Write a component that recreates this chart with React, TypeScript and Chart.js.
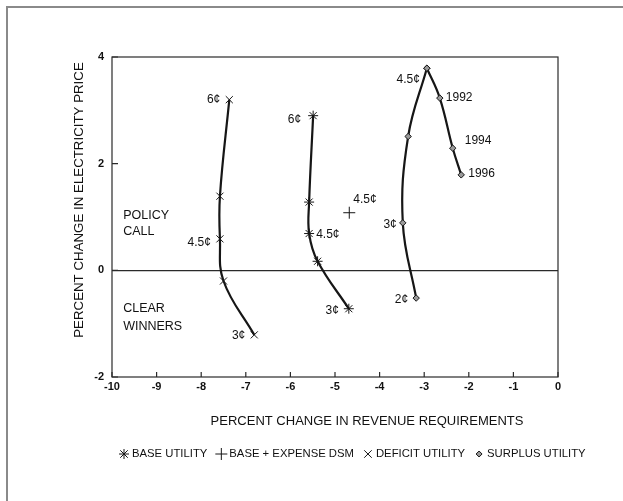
import React, { useEffect, useRef } from 'react';
import { Chart, registerables } from 'chart.js';

Chart.register(...registerables);

// ---------- data ----------
const xTicks = [-10, -9, -8, -7, -6, -5, -4, -3, -2, -1, 0];
const yTicks = [-2, 0, 2, 4];

const deficitX = [-7.37, -7.58, -7.58, -7.5, -6.81];
const deficitY = [3.2, 1.39, 0.59, -0.2, -1.21];

const baseX = [-5.49, -5.58, -5.58, -5.39, -4.69];
const baseY = [2.9, 1.28, 0.69, 0.17, -0.72];

const dsmX = [-4.68];
const dsmY = [1.08];

const surplusX = [-3.18, -3.48, -3.36, -2.94, -2.65, -2.36, -2.17];
const surplusY = [-0.52, 0.89, 2.51, 3.79, 3.23, 2.29, 1.79];
const surplusPeak = 3;

const legendLabels = ['BASE UTILITY', 'BASE + EXPENSE DSM', 'DEFICIT UTILITY', 'SURPLUS UTILITY'];
const xTitle = 'PERCENT CHANGE IN REVENUE REQUIREMENTS';
const yTitle = 'PERCENT CHANGE IN ELECTRICITY PRICE';

// point annotations: series, point index, text
const pointNotes = [
  { s: 'deficit', i: 0, text: '6¢' },
  { s: 'deficit', i: 2, text: '4.5¢' },
  { s: 'deficit', i: 4, text: '3¢' },
  { s: 'base', i: 0, text: '6¢' },
  { s: 'base', i: 2, text: '4.5¢' },
  { s: 'base', i: 4, text: '3¢' },
  { s: 'dsm', i: 0, text: '4.5¢' },
  { s: 'surplus', i: 3, text: '4.5¢' },
  { s: 'surplus', i: 4, text: '1992' },
  { s: 'surplus', i: 5, text: '1994' },
  { s: 'surplus', i: 6, text: '1996' },
  { s: 'surplus', i: 1, text: '3¢' },
  { s: 'surplus', i: 0, text: '2¢' },
];
// region notes at data coordinates
const regionNotes = [
  { x: -9.75, y: 1.03, text: 'POLICY' },
  { x: -9.75, y: 0.73, text: 'CALL' },
  { x: -9.75, y: -0.71, text: 'CLEAR' },
  { x: -9.75, y: -1.05, text: 'WINNERS' },
];

// ---------- styling (offsets in px) ----------
const noteStyle: Record<string, { dx: number; dy: number; align: CanvasTextAlign }> = {
  'deficit0': { dx: -9, dy: 0, align: 'right' },
  'deficit2': { dx: -9, dy: 4, align: 'right' },
  'deficit4': { dx: -9, dy: 1, align: 'right' },
  'base0': { dx: -12, dy: 4, align: 'right' },
  'base2': { dx: 7, dy: 1, align: 'left' },
  'base4': { dx: -10, dy: 2, align: 'right' },
  'dsm0': { dx: 4, dy: -13, align: 'left' },
  'surplus3': { dx: -7, dy: 11, align: 'right' },
  'surplus4': { dx: 6, dy: 0, align: 'left' },
  'surplus5': { dx: 12, dy: -8, align: 'left' },
  'surplus6': { dx: 7, dy: -1, align: 'left' },
  'surplus1': { dx: -6, dy: 2, align: 'right' },
  'surplus0': { dx: -8, dy: 2, align: 'right' },
};

const FONT = '"Liberation Sans", Arial, Helvetica, sans-serif';
const INK = '#161616';

function pts(xs: number[], ys: number[]) {
  return xs.map((x, i) => ({ x, y: ys[i] }));
}

const seriesData: Record<string, { x: number; y: number }[]> = {
  deficit: pts(deficitX, deficitY),
  base: pts(baseX, baseY),
  dsm: pts(dsmX, dsmY),
  surplus: pts(surplusX, surplusY),
};

function drawMarker(ctx: CanvasRenderingContext2D, style: string, x: number, y: number, r: number) {
  ctx.save();
  ctx.strokeStyle = INK;
  ctx.lineWidth = 1;
  ctx.beginPath();
  if (style === 'star' || style === 'cross') {
    ctx.moveTo(x - r, y); ctx.lineTo(x + r, y);
    ctx.moveTo(x, y - r); ctx.lineTo(x, y + r);
  }
  if (style === 'star' || style === 'crossRot') {
    const d = r * 0.75;
    ctx.moveTo(x - d, y - d); ctx.lineTo(x + d, y + d);
    ctx.moveTo(x - d, y + d); ctx.lineTo(x + d, y - d);
  }
  ctx.stroke();
  if (style === 'rectRot') {
    ctx.beginPath();
    ctx.moveTo(x, y - r); ctx.lineTo(x + r, y); ctx.lineTo(x, y + r); ctx.lineTo(x - r, y); ctx.closePath();
    ctx.fillStyle = '#9a9a9a';
    ctx.fill();
    ctx.stroke();
  }
  ctx.restore();
}

const decorPlugin = {
  id: 'decor',
  beforeDraw(chart: any) {
    const ctx = chart.ctx as CanvasRenderingContext2D;
    ctx.save();
    ctx.fillStyle = '#ffffff';
    ctx.fillRect(0, 0, chart.width, chart.height);
    // outer frame (left + top)
    ctx.strokeStyle = '#8a8a8a';
    ctx.lineWidth = 2;
    ctx.beginPath();
    ctx.moveTo(7, chart.height);
    ctx.lineTo(7, 7);
    ctx.lineTo(chart.width, 7);
    ctx.stroke();
    ctx.restore();
  },
  afterDraw(chart: any) {
    const ctx = chart.ctx as CanvasRenderingContext2D;
    const a = chart.chartArea;
    const xs = chart.scales.x;
    const ys = chart.scales.y;
    ctx.save();
    // plot box
    ctx.strokeStyle = '#2a2a2a';
    ctx.lineWidth = 1.2;
    ctx.strokeRect(a.left, a.top, a.right - a.left, a.bottom - a.top);
    // inner ticks
    ctx.beginPath();
    xTicks.forEach((v) => {
      const px = xs.getPixelForValue(v);
      ctx.moveTo(px, a.bottom);
      ctx.lineTo(px, a.bottom - 5);
    });
    yTicks.forEach((v) => {
      const py = ys.getPixelForValue(v);
      ctx.moveTo(a.left, py);
      ctx.lineTo(a.left + 6, py);
    });
    ctx.stroke();

    // annotations
    ctx.fillStyle = '#111';
    ctx.font = `12px ${FONT}`;
    ctx.textBaseline = 'middle';
    pointNotes.forEach((n) => {
      const p = seriesData[n.s][n.i];
      const st = noteStyle[n.s + n.i];
      ctx.textAlign = st.align;
      ctx.fillText(n.text, xs.getPixelForValue(p.x) + st.dx, ys.getPixelForValue(p.y) + st.dy);
    });
    ctx.font = `12.5px ${FONT}`;
    ctx.textAlign = 'left';
    regionNotes.forEach((n) => {
      ctx.fillText(n.text, xs.getPixelForValue(n.x), ys.getPixelForValue(n.y));
    });

    // axis titles
    ctx.font = `13px ${FONT}`;
    ctx.textAlign = 'center';
    ctx.fillText(xTitle, 367, 421);
    ctx.save();
    ctx.translate(79, 200);
    ctx.rotate(-Math.PI / 2);
    ctx.font = `13.3px ${FONT}`;
    ctx.fillText(yTitle, 0, 0);
    ctx.restore();

    // legend
    const styles = ['star', 'cross', 'crossRot', 'rectRot'];
    const radii = [5, 6, 5, 3];
    ctx.font = `11.3px ${FONT}`;
    ctx.textAlign = 'left';
    let x = 119;
    const ly = 454;
    legendLabels.forEach((t, k) => {
      drawMarker(ctx, styles[k], x + 5, ly, radii[k]);
      x += 13;
      ctx.fillText(t, x, ly);
      x += ctx.measureText(t).width + 9;
    });
    ctx.restore();
  },
};

export default function App() {
  const ref = useRef<HTMLCanvasElement | null>(null);

  useEffect(() => {
    document.body.style.margin = '0';
    const canvas = ref.current!;
    const line = {
      borderColor: INK,
      borderWidth: 2.2,
      tension: 0.4,
      showLine: true,
      pointBorderColor: INK,
      pointBorderWidth: 1,
      pointHoverRadius: 0,
    };
    const chart = new Chart(canvas, {
      type: 'scatter',
      data: {
        datasets: [
          { ...line, label: legendLabels[2], data: seriesData.deficit, pointStyle: 'crossRot', pointRadius: 5 },
          { ...line, label: legendLabels[0], data: seriesData.base, pointStyle: 'star', pointRadius: 5 },
          { ...line, label: legendLabels[1], data: seriesData.dsm, pointStyle: 'cross', pointRadius: 6, showLine: false },
          {
            ...line, label: legendLabels[3], data: seriesData.surplus.slice(0, surplusPeak + 1),
            pointStyle: 'rectRot', pointRadius: 3.2, pointBackgroundColor: '#9a9a9a',
          },
          {
            ...line, label: legendLabels[3] + ' ', data: seriesData.surplus.slice(surplusPeak),
            pointStyle: 'rectRot', pointRadius: 3.2, pointBackgroundColor: '#9a9a9a',
          },
        ],
      },
      options: {
        animation: false,
        responsive: false,
        devicePixelRatio: 1,
        layout: { padding: { left: 0, top: 57, right: 65, bottom: 0 } },
        plugins: { legend: { display: false }, tooltip: { enabled: false }, title: { display: false } },
        events: [],
        scales: {
          x: {
            type: 'linear',
            min: -10,
            max: 0,
            afterFit: (s: any) => { s.height = 124; },
            afterBuildTicks: (s: any) => { s.ticks = xTicks.map((v) => ({ value: v })); },
            ticks: { color: '#111', font: { family: FONT, size: 11, weight: 'bold' }, padding: 3 },
            grid: { display: false, drawTicks: false },
            border: { display: false },
          },
          y: {
            type: 'linear',
            min: -2,
            max: 4,
            afterFit: (s: any) => { s.width = 112; },
            afterBuildTicks: (s: any) => { s.ticks = yTicks.map((v) => ({ value: v })); },
            ticks: { color: '#111', font: { family: FONT, size: 11, weight: 'bold' }, padding: 8 },
            grid: {
              drawTicks: false,
              lineWidth: 1.2,
              color: (c: any) => (c.tick && c.tick.value === 0 ? '#2a2a2a' : 'rgba(0,0,0,0)'),
            },
            border: { display: false },
          },
        },
      },
      plugins: [decorPlugin],
    });
    return () => chart.destroy();
  }, []);

  return (
    <div style={{ position: 'absolute', left: 0, top: 0, width: 623, height: 501 }}>
      <canvas ref={ref} width={623} height={501} style={{ display: 'block' }} />
    </div>
  );
}
